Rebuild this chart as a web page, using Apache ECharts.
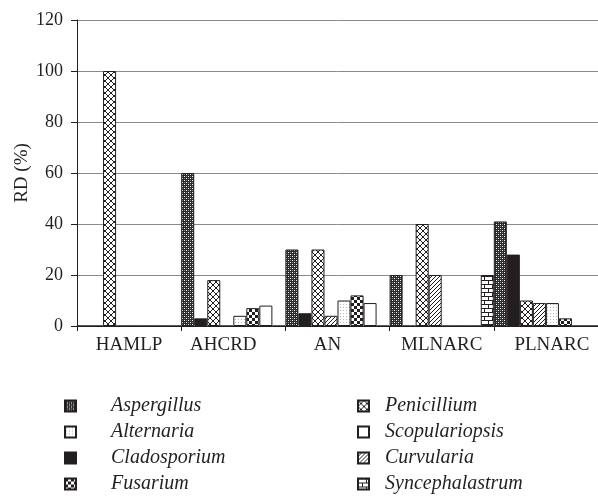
<!DOCTYPE html>
<html><head><meta charset="utf-8">
<script src="https://cdn.jsdelivr.net/npm/echarts@6/dist/echarts.min.js"></script>
<style>html,body{margin:0;padding:0;background:#fff}#c{width:598px;height:497px}</style>
</head><body><div id="c"></div>
<script>
const categories = ['HAMLP','AHCRD','AN','MLNARC','PLNARC'];
const yTicks = [0,20,40,60,80,100,120];
const aspergillus     = [0,60,30,20,41];
const cladosporium    = [0,3,5,0,28];
const penicillium     = [100,18,30,40,10];
const curvularia      = [0,0,4,20,9];
const alternaria      = [0,4,10,0,9];
const fusarium        = [0,7,12,0,3];
const scopulariopsis  = [0,8,9,0,0];
const syncephalastrum = [0,0,0,20,0];

const INK = '#231f20';
function mk(w,h,draw){const c=document.createElement('canvas');c.width=w;c.height=h;const g=c.getContext('2d');g.fillStyle='#fff';g.fillRect(0,0,w,h);draw(g);return c;}
const pat = {
  aspergillus: mk(4,4,g=>{g.fillStyle='#2a2a2a';g.fillRect(0,0,4,4);g.fillStyle='#fff';g.fillRect(0,0,1,1);g.fillRect(2,2,1,1);g.fillStyle='#888';g.fillRect(2,0,1,1);g.fillRect(0,2,1,1);}),
  cladosporium: INK,
  penicillium: mk(6,6,g=>{g.strokeStyle=INK;g.lineWidth=1;g.beginPath();g.moveTo(0,0);g.lineTo(6,6);g.moveTo(6,0);g.lineTo(0,6);g.stroke();}),
  curvularia: mk(4,4,g=>{g.strokeStyle=INK;g.lineWidth=1;g.beginPath();g.moveTo(0,4);g.lineTo(4,0);g.moveTo(-1,1);g.lineTo(1,-1);g.moveTo(3,5);g.lineTo(5,3);g.stroke();}),
  alternaria: mk(3,3,g=>{g.fillStyle='#b5b5b5';g.fillRect(1,1,1,1);}),
  fusarium: mk(6,6,g=>{g.fillStyle=INK;g.fillRect(0,0,3,3);g.fillRect(3,3,3,3);}),
  scopulariopsis: '#ffffff',
  syncephalastrum: mk(8,8,g=>{g.strokeStyle=INK;g.lineWidth=1;g.beginPath();g.moveTo(0,0.5);g.lineTo(8,0.5);g.moveTo(0,4.5);g.lineTo(8,4.5);g.moveTo(0.5,0);g.lineTo(0.5,4);g.moveTo(4.5,4);g.lineTo(4.5,8);g.stroke();})
};
function fill(p){return typeof p==='string'?p:{image:p,repeat:'repeat'};}

const seriesDefs = [
  ['Aspergillus', aspergillus, pat.aspergillus],
  ['Cladosporium', cladosporium, pat.cladosporium],
  ['Penicillium', penicillium, pat.penicillium],
  ['Curvularia', curvularia, pat.curvularia],
  ['Alternaria', alternaria, pat.alternaria],
  ['Fusarium', fusarium, pat.fusarium],
  ['Scopulariopsis', scopulariopsis, pat.scopulariopsis],
  ['Syncephalastrum', syncephalastrum, pat.syncephalastrum]
];
const FONT = '"Liberation Serif","DejaVu Serif",serif';
const LFS = 20, XFS = 19;
function legendText(pad){return {fontFamily:FONT,fontSize:LFS,fontStyle:'italic',color:INK,
  rich:{t:{fontFamily:FONT,fontSize:LFS,fontStyle:'italic',color:INK,padding:[0,0,0,pad]}}};}
const legendCommon = {orient:'vertical',itemWidth:11,itemHeight:11,itemGap:6,padding:0,height:110,
  icon:'rect',formatter:n=>'{t|'+n+'}',selectedMode:false};

// label shifts (rich padding) to match reference label placement
const labelRich = {
  c0:{fontFamily:FONT,fontSize:XFS,color:INK},
  c1:{fontFamily:FONT,fontSize:XFS,color:INK,padding:[0,20,0,0]},
  c2:{fontFamily:FONT,fontSize:XFS,color:INK,padding:[0,20,0,0]},
  c3:{fontFamily:FONT,fontSize:XFS,color:INK},
  c4:{fontFamily:FONT,fontSize:XFS,color:INK,padding:[0,0,0,12]}
};

const chart = echarts.init(document.getElementById('c'),null,{renderer:'canvas'});
chart.setOption({
  animation:false,
  backgroundColor:'#fff',
  grid:{left:77,right:-5,top:20,bottom:171,containLabel:false},
  legend:[
    Object.assign({left:64,top:396,data:['Aspergillus','Alternaria','Cladosporium','Fusarium'],textStyle:legendText(30)},legendCommon),
    Object.assign({left:357,top:396,data:['Penicillium','Scopulariopsis','Curvularia','Syncephalastrum'],textStyle:legendText(11)},legendCommon)
  ],
  xAxis:{type:'category',data:categories,
    axisLine:{lineStyle:{color:INK,width:1}},
    axisTick:{show:true,alignWithLabel:false,length:5,lineStyle:{color:INK}},
    axisLabel:{interval:0,hideOverlap:false,fontFamily:FONT,fontSize:XFS,color:INK,margin:10,
      formatter:(v,i)=>'{c'+i+'|'+v+'}',rich:labelRich}},
  yAxis:{type:'value',min:yTicks[0],max:yTicks[yTicks.length-1],interval:20,
    name:'RD (%)',nameLocation:'middle',nameGap:45,nameMoveOverlap:false,
    nameTextStyle:{fontFamily:FONT,fontSize:19,color:INK},
    axisLine:{show:true,lineStyle:{color:INK,width:1}},
    axisTick:{show:true,length:6,lineStyle:{color:INK}},
    axisLabel:{fontFamily:FONT,fontSize:18,color:INK,margin:14},
    splitLine:{show:true,lineStyle:{color:'#8a8a8a',width:1}}},
  series:seriesDefs.map(([name,vals,p])=>({
    name,type:'bar',data:vals,barGap:0,barCategoryGap:0,
    itemStyle:{color:fill(p),borderColor:INK,borderWidth:1}
  }))
});
</script></body></html>
